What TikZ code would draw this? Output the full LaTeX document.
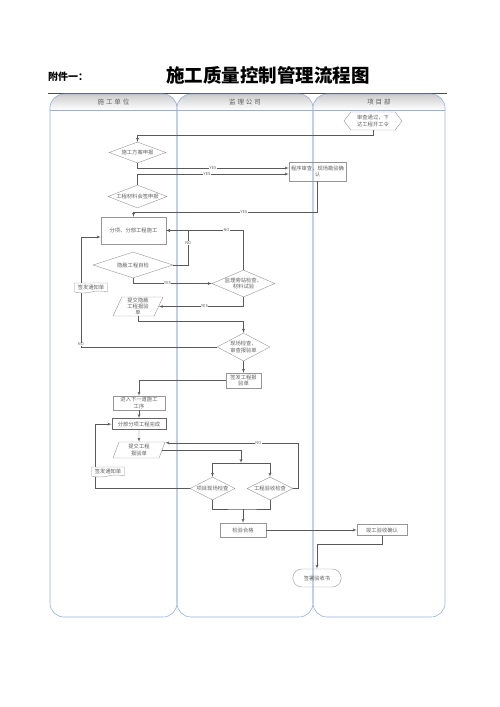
\documentclass[tikz,border=0pt]{standalone}
\usepackage{fontspec}
\setmainfont{Noto Sans CJK SC}
\newfontfamily\headfont[LetterSpace=30]{Noto Sans CJK SC}
\usepackage{tikz}
\usetikzlibrary{shapes,shapes.geometric,shapes.symbols,shapes.misc,arrows,calc,positioning}
\definecolor{laneblue}{RGB}{150,175,220}
\definecolor{edgegray}{RGB}{150,150,150}
\definecolor{wiregray}{RGB}{90,90,90}
\definecolor{inkgray}{RGB}{95,95,95}
\tikzstyle{flow} = [draw=wiregray, line width=0.4pt, -latex']
\tikzstyle{wire} = [draw=wiregray, line width=0.4pt]
\tikzstyle{tag} = [fill=white, inner sep=0.3pt, text=inkgray, font={\fontsize{4}{4}\selectfont}]
\tikzstyle{box} = [draw=edgegray, rectangle, align=center, text=inkgray, inner sep=0.8pt, font={\fontsize{5.3}{6.2}\selectfont}]
\tikzstyle{dec} = [box, diamond, inner sep=-1pt]
\tikzstyle{slant} = [box, trapezium, trapezium left angle=65, trapezium right angle=115, trapezium stretches body]
\tikzstyle{paper} = [box, tape, tape bend top=none, tape bend height=2pt, fill=white]
\tikzstyle{order} = [box, signal, signal to=west and east, signal pointer angle=105]
\tikzstyle{term} = [box, rounded rectangle]
\tikzstyle{lane} = [draw=laneblue, line width=0.6pt, rounded corners=14pt]
\begin{document}
\begin{tikzpicture}[
      x=1pt, y=-1pt,
      node distance = 8pt
    ]
      \useasboundingbox (0,0) rectangle (500,707);
      % heading
      \node[font={\bfseries\fontsize{10}{10}\selectfont}] (annex) at (68,77) {附件一：};
      \node[font={\bfseries\fontsize{18.5}{18.5}\selectfont}] (title) at (268,75) {施工质量控制管理流程图};
      \draw[line width=1pt, draw=black!70] (48,93) -- (447,93);

      % swim lanes
      \foreach \xa/\xb/\who in {50/177/施工单位, 177/313/监理公司, 313/445/项目部} {
        \begin{scope}
          \clip[rounded corners=14pt] (\xa,94) rectangle (\xb,617);
          \shade[top color=gray!40, bottom color=white] (\xa,94) rectangle (\xb,110);
        \end{scope}
        \draw[lane] (\xa,94) rectangle (\xb,617);
        \draw[draw=laneblue, line width=0.6pt] (\xa,110) -- (\xb,110);
        \node[text=inkgray, font={\headfont\fontsize{6.5}{6.5}\selectfont}] (who\xa) at ({(\xa+\xb)/2},102) {\who};
      }

      \node[order, minimum width=58pt, minimum height=18pt] (start) at (373,121) {审查通过，下\\达工程开工令};
      \node[dec, aspect=2.7, minimum width=57pt, minimum height=21pt] (plan) at (137.5,152.5) {施工方案申报};
      \node[box, minimum width=57pt, minimum height=19pt] (check) at (317.5,171.5) {程序审查，现场勘验确\\认};
      \node[dec, aspect=2.6, minimum width=59pt, minimum height=23pt] (mat) at (137.5,196.5) {工程材料会签申报};
      \node[box, minimum width=65pt, minimum height=27pt] (build) at (133.5,230.5) {分项、分部工程施工};
      \node[dec, aspect=3, minimum width=80pt, minimum height=26pt] (self) at (133,265) {隐蔽工程自检};
      \node[dec, aspect=2.33, minimum width=63pt, minimum height=27pt] (watch) at (243.5,283.5) {监理旁站检查、\\材料试验};
      \node[slant, minimum width=50pt, minimum height=19pt] (hidden) at (138,306.5) {提交隐蔽\\工程报验\\单};
      \node[dec, aspect=1.9, minimum width=53pt, minimum height=28pt] (site) at (243.5,347) {现场检查，\\审查报验单};
      \node[box, minimum width=35pt, minimum height=15pt] (sign) at (243.5,380.5) {签发工程报\\验单};
      \node[box, minimum width=52pt, minimum height=14pt] (next) at (139,403) {进入下一道施工\\工序};
      \node[box, minimum width=54pt, minimum height=11pt, draw=black!60, line width=0.8pt, below=of next] (done) {分部分项工程完成};
      \node[slant, minimum width=52pt, minimum height=16pt] (report) at (139,450) {提交工程\\报验单};
      \node[dec, aspect=2, minimum width=45pt, minimum height=23pt] (pm) at (212.5,488.5) {项目现场检查};
      \node[dec, aspect=2, minimum width=46pt, minimum height=23pt] (accept) at (270,488.5) {工程验收检查};
      \node[box, minimum width=46pt, minimum height=14pt] (pass) at (243,530) {检验合格};
      \node[box, minimum width=50pt, minimum height=11pt] (confirm) at (382,530) {竣工验收确认};
      \node[term, minimum width=50pt, minimum height=18pt] (finish) at (317,578) {签署验收书};

      \coordinate (split) at (241,463);
      \coordinate (join) at (243,509);

      \path[flow] (start.south) -- ++(0,5) -| (plan.north);
      \path[flow] (plan.south) |- ([yshift=3.5pt]check.west) node[tag, pos=0.75] {YES};
      \path[flow] (mat.north) |- ([yshift=-2.5pt]check.west) node[tag, pos=0.73] {YES};
      \path[flow] (check.south) -- ++(0,31) -| (build.north) node[tag, pos=0.2] {YES};
      \path[flow] (self.east) -- ++(15,0) |- (build.east) node[tag, pos=0.32] {NO};
      \path[flow] (watch.north) |- (build.east) node[tag, pos=0.61] {NO};
      \path[flow] (self.south) |- (watch.west) node[tag, pos=0.72] {YES};
      \path[flow] (watch.south) |- (hidden.east) node[tag, pos=0.73] {YES};
      \path[flow] (hidden.south) -- ++(0,5) -| (site.north);
      \path[flow] (site.west) -- ++(-136,0) node[tag, at end, above=0.5pt] {NO} |- ([yshift=-6.5pt]build.west);
      \path[flow] (site) -- (sign);
      \path[flow] (sign.west) -| (next.north);
      \path[flow] (next) -- (done);
      \path[flow] (pm.west) -- ++(-95,0) |- (done.west);
      \path[flow] (done) -- (report);
      \path[flow] (report.east) -| (split);
      \path[wire] (pm.north |- split) -- (accept.north |- split);
      \path[flow] (pm.north |- split) -- (pm.north);
      \path[flow] (accept.north |- split) -- (accept.north);
      \path[flow] (accept.east) -- ++(5,0) |- ([yshift=-1pt]report.top right corner) node[tag, pos=0.65] {NO};
      \path[wire] (pm.south) |- (join) -| (accept.south);
      \path[flow] (join) -- (pass.north);
      \path[flow] (pass) -- (confirm);
      \path[flow] (confirm.south) -- ++(0,8) -| (finish.north);

      \node[paper, minimum width=33pt, minimum height=10pt] (notice) at (91,287) {签发通知单};
      \node[paper, minimum width=33pt, minimum height=10pt] (notice2) at (108,471) {签发通知单};
    \end{tikzpicture}
\end{document}
